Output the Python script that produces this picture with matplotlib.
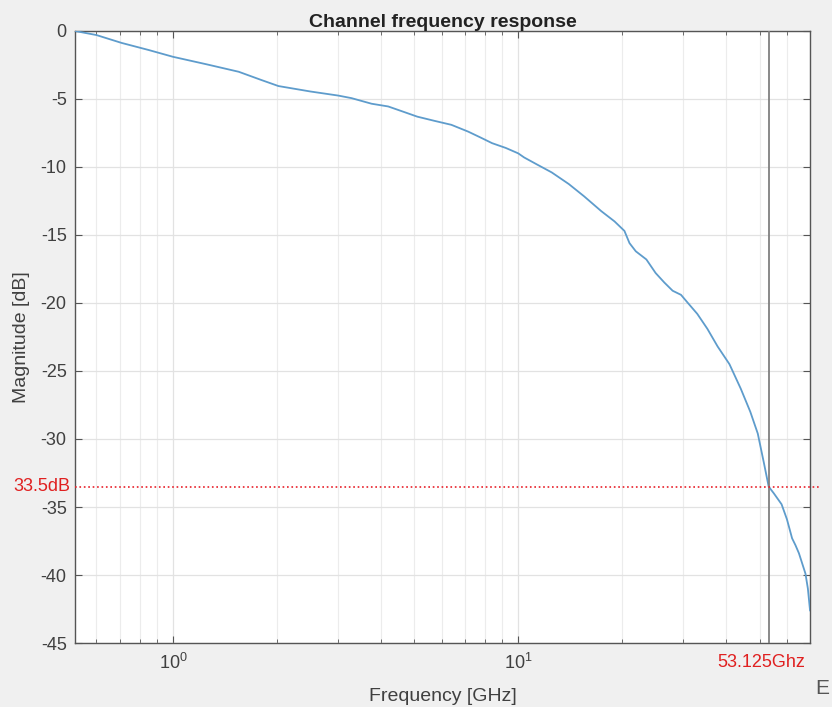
import numpy as np
import matplotlib
matplotlib.use("Agg")
import matplotlib.pyplot as plt
from matplotlib.ticker import LogLocator, NullFormatter, FixedLocator

# channel response samples
freq_ghz = [0.52, 0.6, 0.71, 0.85, 1.0, 1.25, 1.55, 1.8, 2.02, 2.5, 3.01, 3.29,
            3.76, 4.2, 4.6, 5.1, 5.7, 6.4, 7.16, 7.8, 8.4, 9.2, 10.0, 10.4,
            11.3, 12.5, 14.0, 15.5, 17.4, 19.0, 20.3, 21.0, 21.9, 23.5, 25.0,
            26.5, 28.0, 29.6, 31.0, 33.0, 35.3, 37.8, 40.9, 44.1, 47.0, 49.4,
            51.5, 53.125, 55.0, 57.9, 60.0, 62.1, 63.5, 65.0, 67.9, 69.0, 70.0]
mag_db = [0.0, -0.3, -0.88, -1.4, -1.9, -2.45, -3.0, -3.6, -4.05, -4.45, -4.75,
          -4.94, -5.35, -5.55, -5.9, -6.3, -6.6, -6.9, -7.4, -7.85, -8.25, -8.6,
          -9.0, -9.3, -9.8, -10.4, -11.25, -12.15, -13.25, -14.0, -14.7, -15.6,
          -16.2, -16.8, -17.8, -18.5, -19.1, -19.4, -20.0, -20.8, -21.9, -23.2,
          -24.5, -26.3, -28.0, -29.6, -31.8, -33.5, -34.0, -34.8, -35.9, -37.3,
          -37.8, -38.4, -39.9, -41.0, -42.6]

f_nyq = 53.125
loss_db = -33.5
y_ticks = [0, -5, -10, -15, -20, -25, -30, -35, -40, -45]

plt.rcParams['font.family'] = ['Liberation Sans', 'DejaVu Sans']
plt.rcParams['axes.unicode_minus'] = False

fig = plt.figure(figsize=(8.32, 7.07), dpi=100, facecolor='#f0f0f0')
ax = fig.add_axes([0.0901, 0.0905, 0.8835, 0.8657])
ax.set_facecolor('white')

ax.plot(freq_ghz, mag_db, color='#5e9ccc', lw=1.3, zorder=3)

ax.set_xscale('log')
ax.set_xlim(0.52, 70)
ax.set_ylim(-45, 0)
ax.yaxis.set_major_locator(FixedLocator(y_ticks))
ax.xaxis.set_major_locator(LogLocator(base=10))
ax.xaxis.set_minor_locator(LogLocator(base=10, subs=np.arange(2, 10)))
ax.xaxis.set_minor_formatter(NullFormatter())

ax.grid(True, which='major', color='#e2e2e2', lw=0.9)
ax.grid(True, which='minor', axis='x', color='#ececec', lw=0.8)
ax.set_axisbelow(True)

for s in ax.spines.values():
    s.set_color('#555555')
    s.set_linewidth(1.0)
ax.tick_params(which='both', direction='in', top=True, right=True,
               colors='#555555', labelcolor='#404040', labelsize=13)
ax.tick_params(which='major', length=5)
ax.tick_params(which='minor', length=3)
ax.tick_params(axis='x', pad=7)
ax.tick_params(axis='y', pad=6)

ax.set_title('Channel frequency response', fontsize=14, fontweight='bold',
             color='#222222', pad=0)
ax.set_xlabel('Frequency [GHz]', fontsize=14, color='#404040', labelpad=11)
ax.set_ylabel('Magnitude [dB]', fontsize=14, color='#404040', labelpad=8)

# markers for the nyquist frequency and its loss
ax.axvline(f_nyq, color='#808080', lw=1.3, zorder=4)
ax.plot([0, 1.015], [loss_db, loss_db], transform=ax.get_yaxis_transform(),
        color='#e8202a', ls=':', lw=1.2, clip_on=False, zorder=5)

ax.annotate('%.1fdB' % abs(loss_db), xy=(0, loss_db),
            xycoords=ax.get_yaxis_transform(), xytext=(-3, 0),
            textcoords='offset points', ha='right', va='center',
            color='#e02020', fontsize=13)
ax.annotate('%.3fGhz' % f_nyq, xy=(f_nyq, 0),
            xycoords=ax.get_xaxis_transform(), xytext=(-5, -8),
            textcoords='offset points', ha='center', va='top',
            color='#e02020', fontsize=13)

fig.text(815 / 832, 1 - 694 / 707, 'E', fontsize=15, color='#555555',
         ha='left', va='baseline')

fig.savefig('out.png', dpi=100, facecolor=fig.get_facecolor())
